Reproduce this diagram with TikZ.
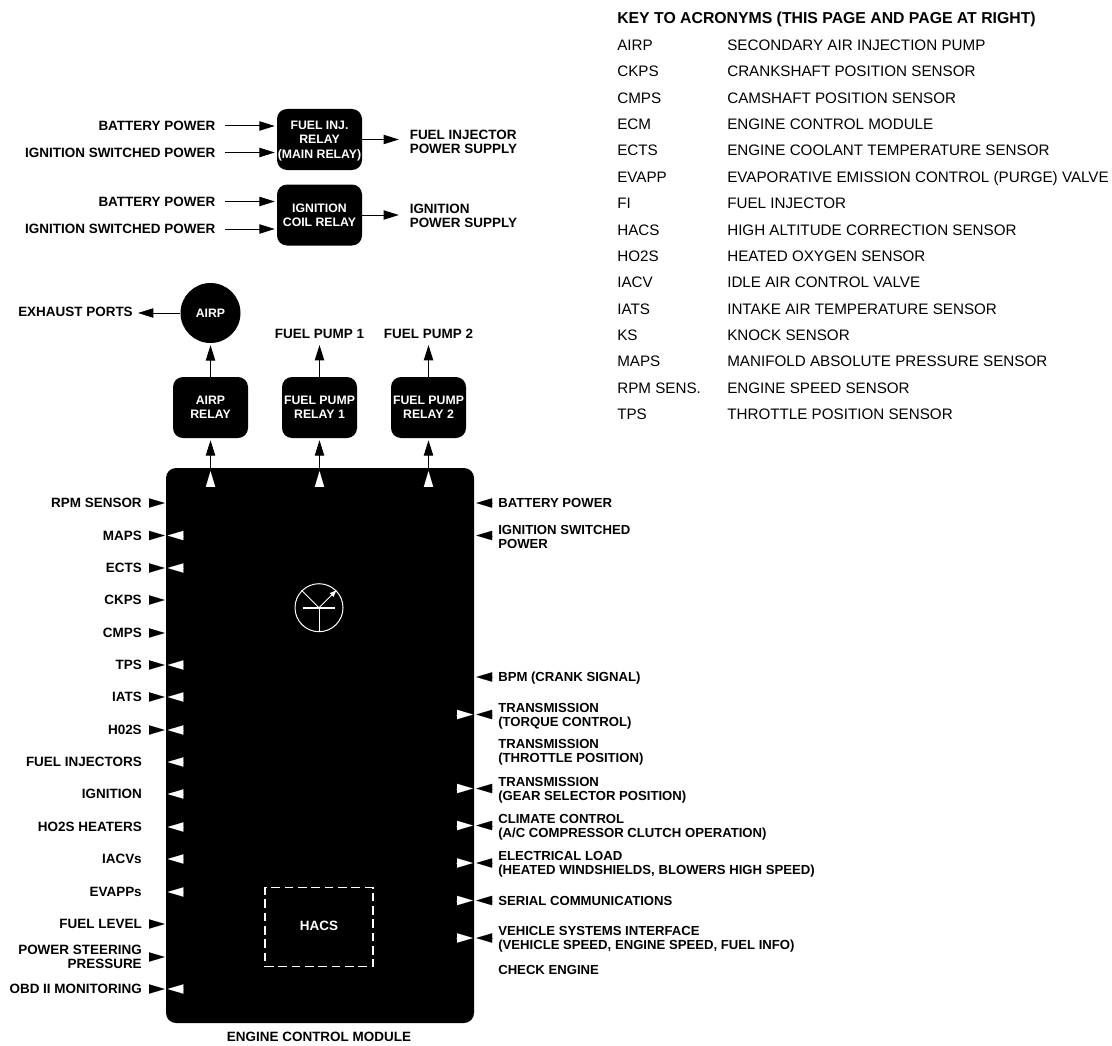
\documentclass[tikz,border=0pt]{standalone}
\usepackage{fontspec}
\setmainfont{Liberation Sans}
\usetikzlibrary{arrows.meta,calc}
\newcommand{\ph}{\vphantom{(}}
\newcommand{\cph}{\rule{0pt}{0.72em}}
\tikzset{
  x=0.75pt,y=-0.75pt,
  lab/.style={inner sep=0pt,yshift=-0.1em,font=\fontsize{10.1}{10.75}\selectfont\bfseries},
  labl/.style={lab,anchor=east,align=right},
  labr/.style={lab,anchor=west,align=left},
  labrn/.style={labr,font=\fontsize{9.85}{10.75}\selectfont\bfseries},
  labc/.style={lab,anchor=center,align=center},
  boxfont/.style={font=\fontsize{9.2}{10.6}\selectfont\bfseries},
  blk/.style={fill=black,draw=none,rounded corners=7.5pt,inner sep=0pt,text=white,align=center,minimum width=63.75pt,minimum height=45.75pt,boxfont},
  relay/.style={blk,minimum width=56.25pt},
  conn/.style={draw=black,line width=0.75pt,-{Triangle[length=11.5pt,width=7pt]}},
  tipk/.style={draw=black,line width=0.01pt,-{Triangle[length=11.8pt,width=7pt,fill=black]}},
  tipw/.style={draw=white,line width=0.01pt,-{Triangle[length=11.8pt,width=7pt,fill=white]}},
  key/.style={inner sep=0pt,anchor=west,yshift=-0.1em,font=\fontsize{11.4}{12}\selectfont},
  keyhead/.style={key,font=\fontsize{11.85}{12}\selectfont\bfseries},
}
% left side row: name, y, text, show black tip, show white tip
\newcommand{\lrow}[5]{%
  \node[labl] (#1) at (142,#2) {#3};
  \ifnum#4=1 \draw[tipk] ($(ecm.west |- 0,#2)+(-17,0)$) -- ($(ecm.west |- 0,#2)+(-1,0)$);\fi
  \ifnum#5=1 \draw[tipw] ($(ecm.west |- 0,#2)+(18,0)$) -- ($(ecm.west |- 0,#2)+(2,0)$);\fi
}
\newcommand{\rrow}[5]{%
  \node[labrn] (#1) at (498,#2) {#3};
  \ifnum#4=1 \draw[tipk] ($(ecm.east |- 0,#2)+(18,0)$) -- ($(ecm.east |- 0,#2)+(2,0)$);\fi
  \ifnum#5=1 \draw[tipw] ($(ecm.east |- 0,#2)+(-18,0)$) -- ($(ecm.east |- 0,#2)+(-1.5,0)$);\fi
}
\newcommand{\keyrow}[4]{%
  \node[key] (k#1) at (617,#2) {\ph #3};
  \node[key] (d#1) at (727,#2) {\ph #4};
}
\begin{document}
\begin{tikzpicture}
\useasboundingbox (0,0) rectangle (1112,1045);

% ---------- main relays
\node[blk] (finj) at (319.5,139.5) {\cph FUEL INJ.\\\cph RELAY\\\cph\smash{(MAIN RELAY)}};
\node[blk] (icoil) at (319.5,215) {\cph IGNITION\\\cph COIL RELAY};

\node[labl] (b1) at (215.5,126) {\ph BATTERY POWER};
\node[labl] (s1) at (215.5,152.5) {\ph IGNITION SWITCHED POWER};
\node[labl] (b2) at (215.5,201.5) {\ph BATTERY POWER};
\node[labl] (s2) at (215.5,229) {\ph IGNITION SWITCHED POWER};
\node[labr] (fo) at (409.5,141.5) {\ph FUEL INJECTOR\\\ph POWER SUPPLY};
\node[labr] (io) at (409.5,216) {\ph IGNITION\\\ph POWER SUPPLY};

\coordinate (b1e) at (225,126); \coordinate (s1e) at (225,152.5);
\coordinate (b2e) at (225,201.5); \coordinate (s2e) at (225,229);
\draw[conn,shorten >=1.5pt] (b1e) -- (b1e -| finj.west);
\draw[conn,shorten >=1.5pt] (s1e) -- (s1e -| finj.west);
\draw[conn,shorten >=1.5pt] (b2e) -- (b2e -| icoil.west);
\draw[conn,shorten >=1.5pt] (s2e) -- (s2e -| icoil.west);
\draw[conn,shorten >=8pt] (finj.east) -- (fo.west |- finj.east);
\draw[conn,shorten >=8pt] (icoil.east) -- (io.west |- icoil.east);

% ---------- pumps
\node[circle,fill=black,minimum size=45pt,inner sep=0pt,text=white,boxfont] (airp) at (210.5,313) {\cph AIRP};
\node[relay] (ar) at (210.5,407.5) {\cph AIRP\\\cph RELAY};
\node[relay] (p1) at (319.5,407.5) {\cph FUEL PUMP\\\cph RELAY 1};
\node[relay] (p2) at (428.5,407.5) {\cph FUEL PUMP\\\cph RELAY 2};
\node[labl] (ex) at (133,312) {\ph EXHAUST PORTS};
\node[labc] (fp1) at (319.5,334) {\ph FUEL PUMP 1};
\node[labc] (fp2) at (428.5,334) {\ph FUEL PUMP 2};
\coordinate (fp1t) at (319.5,345); \coordinate (fp2t) at (428.5,345);
\coordinate (ext) at (138,313);

\draw[conn,shorten >=1.5pt] (ar.north) -- (airp.south);
\draw[conn] (p1.north) -- (fp1t);
\draw[conn] (p2.north) -- (fp2t);
\draw[conn] (airp.west) -- (ext);

% ---------- ECM
\node[fill=black,rounded corners=7.5pt,minimum width=231pt,minimum height=416.25pt,inner sep=0pt] (ecm) at (320,745.5) {};
\node[labc] (ecml) at (319,1037) {\ph ENGINE CONTROL MODULE};

\draw[conn,shorten >=1.5pt] (ar.south |- ecm.north) -- (ar.south);
\draw[conn,shorten >=1.5pt] (p1.south |- ecm.north) -- (p1.south);
\draw[conn,shorten >=1.5pt] (p2.south |- ecm.north) -- (p2.south);
\foreach \n in {ar,p1,p2}{
  \draw[tipw] ($(\n.south |- ecm.north)+(0,18)$) -- ($(\n.south |- ecm.north)+(0,3.5)$);
}

% icon
\node[circle,draw=white,line width=0.75pt,minimum size=36pt,inner sep=0pt] (icon) at (319,607.7) {};
\coordinate (barl) at (303,607.7); \coordinate (barr) at (335,607.7);
\draw[white,line width=1.6pt] (barl) -- (barr);
\draw[white,line width=0.75pt] (icon.center) -- (icon.south);
\draw[white,line width=0.6pt] (icon.center) -- (icon.135);
\draw[white,line width=0.6pt,-{Triangle[length=5pt,width=4pt,fill=white]}] (icon.center) -- (icon.45);

% HACS
\node[draw=white,line width=1pt,dash pattern=on 6.5pt off 3.5pt,minimum width=81pt,minimum height=59.25pt,inner sep=0pt] (hacs) at (319,927.2) {};
\node[labc,text=white] (hacst) at (319,926) {\ph HACS};

% ---------- left rows
\lrow{l1}{503}{\ph RPM SENSOR}{1}{0}
\lrow{l2}{535.5}{\ph MAPS}{1}{1}
\lrow{l3}{568}{\ph ECTS}{1}{1}
\lrow{l4}{600}{\ph CKPS}{1}{0}
\lrow{l5}{633}{\ph CMPS}{1}{0}
\lrow{l6}{665}{\ph TPS}{1}{1}
\lrow{l7}{697}{\ph IATS}{1}{1}
\lrow{l8}{730}{\ph H02S}{1}{1}
\lrow{l9}{762}{\ph FUEL INJECTORS}{0}{1}
\lrow{l10}{794}{\ph IGNITION}{0}{1}
\lrow{l11}{827}{\ph HO2S HEATERS}{0}{1}
\lrow{l12}{859}{\ph IACVs}{0}{1}
\lrow{l13}{892}{\ph EVAPPs}{0}{1}
\lrow{l14}{924}{\ph FUEL LEVEL}{1}{0}
\lrow{l15}{957}{\ph POWER STEERING\\\ph PRESSURE}{1}{0}
\lrow{l16}{989}{\ph OBD II MONITORING}{1}{1}

% ---------- right rows
\rrow{r1}{503}{\ph BATTERY POWER}{1}{0}
\rrow{r2}{537}{\ph IGNITION SWITCHED\\\ph POWER}{0}{0}
\rrow{r3}{677}{\ph BPM (CRANK SIGNAL)}{1}{0}
\rrow{r4}{714.5}{\ph TRANSMISSION\\\ph (TORQUE CONTROL)}{1}{1}
\rrow{r5}{751}{\ph TRANSMISSION\\\ph (THROTTLE POSITION)}{0}{0}
\rrow{r6}{788.5}{\ph TRANSMISSION\\\ph (GEAR SELECTOR POSITION)}{1}{1}
\rrow{r7}{825.5}{\ph CLIMATE CONTROL\\\ph (A/C COMPRESSOR CLUTCH OPERATION)}{1}{1}
\rrow{r8}{863}{\ph ELECTRICAL LOAD\\\ph (HEATED WINDSHIELDS, BLOWERS HIGH SPEED)}{1}{1}
\rrow{r9}{900.5}{\ph SERIAL COMMUNICATIONS}{1}{1}
\rrow{r10}{938}{\ph VEHICLE SYSTEMS INTERFACE\\\ph (VEHICLE SPEED, ENGINE SPEED, FUEL INFO)}{1}{1}
\rrow{r11}{970}{\ph CHECK ENGINE}{0}{0}
\draw[tipk] ($(ecm.east |- 0,535.5)+(18,0)$) -- ($(ecm.east |- 0,535.5)+(2,0)$);

% ---------- key
\node[keyhead] (kh) at (617,18) {\ph KEY TO ACRONYMS (THIS PAGE AND PAGE AT RIGHT)};
\keyrow{1}{45}{AIRP}{SECONDARY AIR INJECTION PUMP}
\keyrow{2}{71.5}{CKPS}{CRANKSHAFT POSITION SENSOR}
\keyrow{3}{98}{CMPS}{CAMSHAFT POSITION SENSOR}
\keyrow{4}{124}{ECM}{ENGINE CONTROL MODULE}
\keyrow{5}{150.5}{ECTS}{ENGINE COOLANT TEMPERATURE SENSOR}
\keyrow{6}{177}{EVAPP}{EVAPORATIVE EMISSION CONTROL (PURGE) VALVE}
\keyrow{7}{203.5}{FI}{FUEL INJECTOR}
\keyrow{8}{230}{HACS}{HIGH ALTITUDE CORRECTION SENSOR}
\keyrow{9}{256}{HO2S}{HEATED OXYGEN SENSOR}
\keyrow{10}{282.5}{IACV}{IDLE AIR CONTROL VALVE}
\keyrow{11}{309}{IATS}{INTAKE AIR TEMPERATURE SENSOR}
\keyrow{12}{335.5}{KS}{KNOCK SENSOR}
\keyrow{13}{361.5}{MAPS}{MANIFOLD ABSOLUTE PRESSURE SENSOR}
\keyrow{14}{388}{RPM SENS.}{ENGINE SPEED SENSOR}
\keyrow{15}{414.5}{TPS}{THROTTLE POSITION SENSOR}
\end{tikzpicture}
\end{document}
